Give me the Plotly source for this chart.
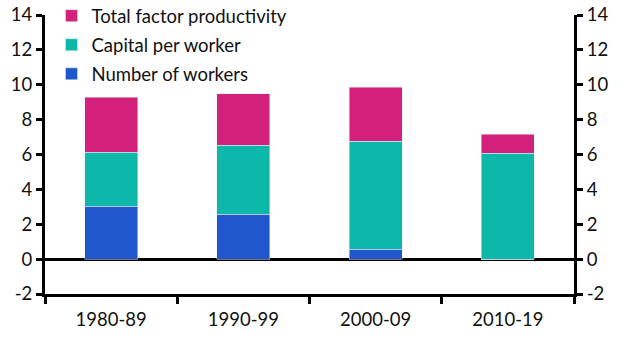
import plotly.graph_objects as go

categories = ["1980-89", "1990-99", "2000-09", "2010-19"]
workers = [3.03, 2.57, 0.57, 0.0]
capital = [3.10, 3.96, 6.19, 6.07]
tfp = [3.16, 2.94, 3.11, 1.09]
ytick_vals = [-2, 0, 2, 4, 6, 8, 10, 12, 14]
ytick_text = ["-2", "0", "2", "4", "6", "8", "10", "12", "14"]

colors = {"workers": "#2157CC", "capital": "#0DB8AA", "tfp": "#D3217B"}

fig = go.Figure()
fig.add_trace(go.Bar(x=categories, y=workers, name="Number of workers", marker_color=colors["workers"],
                     width=0.4, legendgroup="w", legendrank=3))
fig.add_trace(go.Bar(x=categories, y=capital, name="Capital per worker", marker_color=colors["capital"],
                     width=0.4, legendgroup="c", legendrank=2))
fig.add_trace(go.Bar(x=categories, y=tfp, name="Total factor productivity", marker_color=colors["tfp"],
                     width=0.4, legendgroup="t", legendrank=1))
fig.add_trace(go.Scatter(x=categories, y=[None]*4, yaxis="y2", showlegend=False, hoverinfo="skip"))

font = dict(family="Lato", size=18.5, color="#111")
axis_common = dict(range=[-2, 14], tickvals=ytick_vals, ticktext=ytick_text, showline=True,
                   linecolor="black", linewidth=3, ticks="outside", ticklen=6, tickwidth=3,
                   tickcolor="black", showgrid=False)
fig.update_layout(
    barmode="stack",
    width=624, height=345,
    margin=dict(l=45, r=50, t=15, b=51, autoexpand=False),
    plot_bgcolor="white", paper_bgcolor="white",
    font=font,
    showlegend=True,
    legend=dict(x=0.0123, y=1.064, xanchor="left", yanchor="top",
                traceorder="grouped", bgcolor="rgba(0,0,0,0)", font=dict(size=18.5), tracegroupgap=2),
    xaxis=dict(type="category", range=[-0.5, 3.5], showline=True, linecolor="black", linewidth=3,
               ticks="outside", tickson="boundaries", ticklen=7, tickwidth=3, tickcolor="black",
               showgrid=False, zeroline=False, ticklabelstandoff=7),
    yaxis=dict(**axis_common, zeroline=True, zerolinecolor="black", zerolinewidth=3),
    yaxis2=dict(**axis_common, overlaying="y", side="right", zeroline=False),
)
fig.write_html("out.html")
